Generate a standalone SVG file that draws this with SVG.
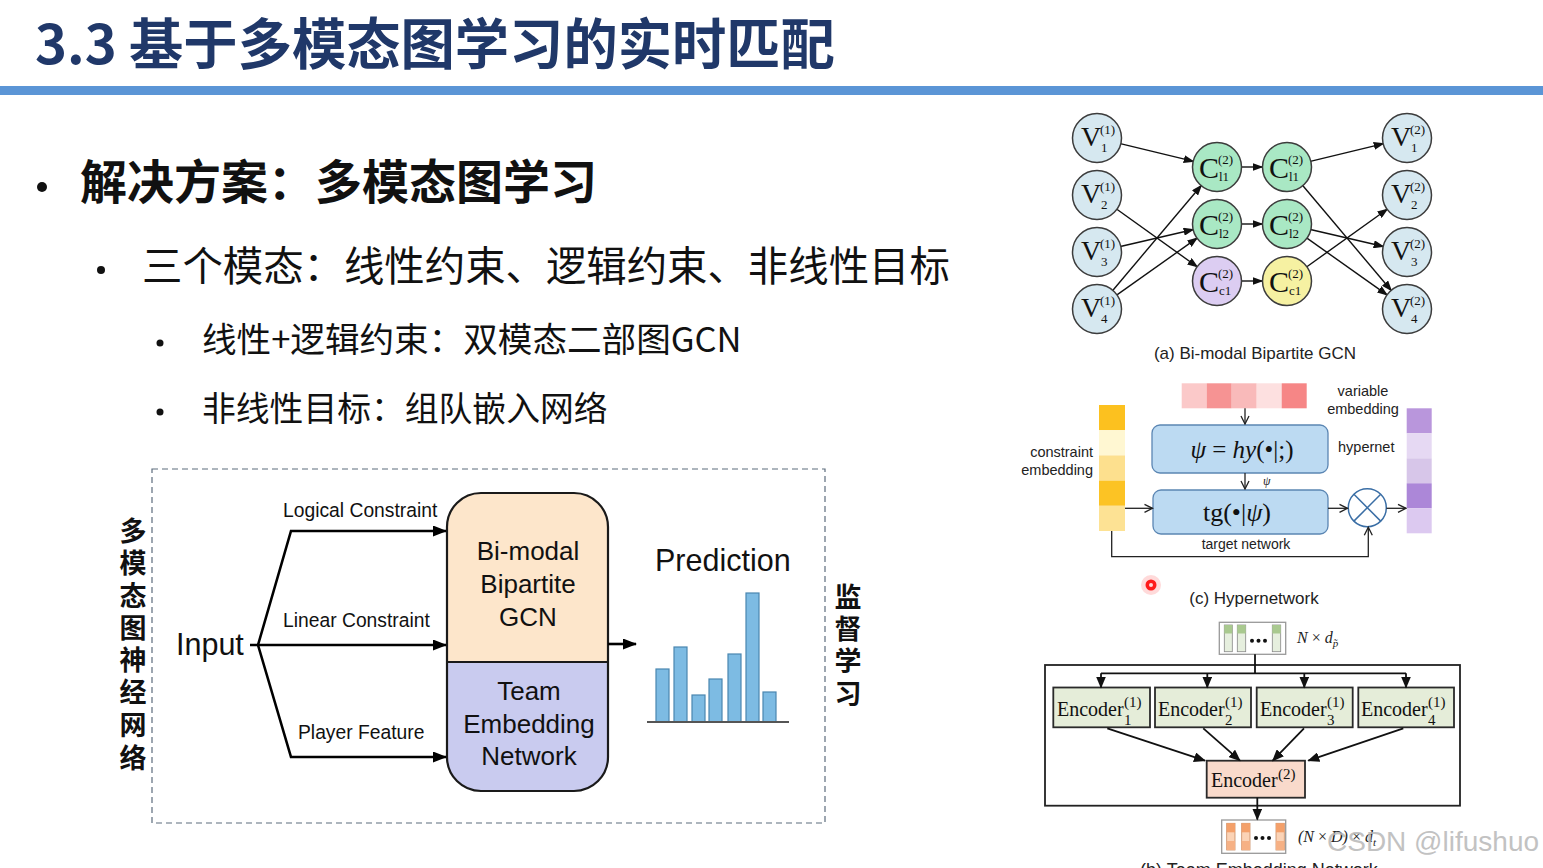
<svg xmlns="http://www.w3.org/2000/svg" width="1543" height="868" viewBox="0 0 1543 868">
<defs>
<style>
.sans{font-family:"Liberation Sans",Arial,sans-serif}
.cjk{font-family:"Noto Sans CJK SC","Noto Sans",sans-serif}
.serif{font-family:"Liberation Serif","Times New Roman",serif}
.vn{fill:#d6e8f0;stroke:#3c3c3c;stroke-width:1.5}
.cg{fill:#a9e8c4;stroke:#3c3c3c;stroke-width:1.5}
.cp{fill:#dccdf2;stroke:#3c3c3c;stroke-width:1.5}
.cy{fill:#f6f1a2;stroke:#3c3c3c;stroke-width:1.5}
.nl{font-family:"Liberation Serif","Times New Roman",serif;font-size:28px;fill:#111}
.cl{font-family:"Liberation Serif","Times New Roman",serif;font-size:30px;fill:#111}
.sp{font-family:"Liberation Serif","Times New Roman",serif;font-size:13px;fill:#111}
.ge{stroke:#111;stroke-width:1.4;fill:none;marker-end:url(#ah)}
.be{stroke:#000;stroke-width:2.6;fill:none}
.he{stroke:#222;stroke-width:1.3;fill:none;marker-end:url(#ao)}
.ee{stroke:#111;stroke-width:1.8;fill:none;marker-end:url(#ae)}
.enc{fill:#e5edd9;stroke:#2a2a2a;stroke-width:1.8}
.et{font-family:"Liberation Serif","Times New Roman",serif;font-size:20px;fill:#111}
.es{font-family:"Liberation Serif","Times New Roman",serif;font-size:15px;fill:#111}
.vt{font-family:"Noto Sans CJK SC",sans-serif;font-size:27px;font-weight:bold;fill:#111;text-anchor:middle}
.bar{fill:#7dbbe3;stroke:#4a86b0;stroke-width:1.2}
</style>
<marker id="ah" markerUnits="userSpaceOnUse" markerWidth="11" markerHeight="8" refX="10" refY="4" orient="auto"><path d="M0,0 L11,4 L0,8 z" fill="#111"/></marker>
<marker id="ab" markerUnits="userSpaceOnUse" markerWidth="14" markerHeight="11" refX="13" refY="5.5" orient="auto"><path d="M0,0 L14,5.5 L0,11 z" fill="#000"/></marker>
<marker id="ao" markerUnits="userSpaceOnUse" markerWidth="10" markerHeight="10" refX="9" refY="5" orient="auto"><path d="M1,1 L9,5 L1,9" fill="none" stroke="#222" stroke-width="1.3"/></marker>
<marker id="ae" markerUnits="userSpaceOnUse" markerWidth="12" markerHeight="10" refX="11" refY="5" orient="auto"><path d="M0,0 L12,5 L0,10 z" fill="#111"/></marker>
</defs>
<rect width="1543" height="868" fill="#ffffff"/>

<!-- Title -->
<g id="title">
<text x="35" y="64" class="cjk" font-size="54.3" font-weight="bold" fill="#203869">3.3 基于多模态图学习的实时匹配</text>
<rect x="0" y="86" width="1543" height="9" fill="#5b95d6"/>
</g>

<!-- Bullets -->
<g id="bullets" class="cjk" fill="#111">
<circle cx="42" cy="187" r="5" fill="#111"/>
<text x="80" y="199" font-size="47" font-weight="bold">解决方案：多模态图学习</text>
<circle cx="101" cy="270" r="4" fill="#111"/>
<text x="142" y="281" font-size="40.4">三个模态：线性约束、逻辑约束、非线性目标</text>
<circle cx="160" cy="343" r="3.5" fill="#111"/>
<text x="202" y="352" font-size="34.6">线性+逻辑约束：双模态二部图GCN</text>
<circle cx="160" cy="412" r="3.5" fill="#111"/>
<text x="202" y="421" font-size="33.8">非线性目标：组队嵌入网络</text>
</g>

<!-- Left framework diagram -->
<g id="frame">
<rect x="152" y="469" width="673" height="354" fill="none" stroke="#5c6c7c" stroke-width="1.2" stroke-dasharray="6,4"/>
</g>
<g id="label-left">
<text x="133" y="541" class="vt">多</text>
<text x="133" y="573" class="vt">模</text>
<text x="133" y="606" class="vt">态</text>
<text x="133" y="638" class="vt">图</text>
<text x="133" y="670" class="vt">神</text>
<text x="133" y="702" class="vt">经</text>
<text x="133" y="735" class="vt">网</text>
<text x="133" y="768" class="vt">络</text>
</g>
<g id="label-right">
<text x="848" y="607" class="vt">监</text>
<text x="848" y="639" class="vt">督</text>
<text x="848" y="671" class="vt">学</text>
<text x="848" y="704" class="vt">习</text>
</g>
<g id="input">
<text x="176" y="655" class="sans" font-size="30.5" fill="#111">Input</text>
</g>
<g id="model">
<path d="M447,662 V527 A34,34 0 0 1 481,493 H574 A34,34 0 0 1 608,527 V662 Z" fill="#fde6cb"/>
<path d="M447,662 V757 A34,34 0 0 0 481,791 H574 A34,34 0 0 0 608,757 V662 Z" fill="#c9cbef"/>
<rect x="447" y="493" width="161" height="298" rx="34" ry="34" fill="none" stroke="#1a1a1a" stroke-width="2.2"/>
<line x1="447" y1="662" x2="608" y2="662" stroke="#1a1a1a" stroke-width="2.2"/>
<g class="sans" font-size="26" fill="#111" text-anchor="middle">
<text x="528" y="560">Bi-modal</text>
<text x="528" y="593">Bipartite</text>
<text x="528" y="626">GCN</text>
<text x="529" y="700">Team</text>
<text x="529" y="733">Embedding</text>
<text x="529" y="765">Network</text>
</g>
</g>
<g id="prediction">
<text x="655" y="571" class="sans" font-size="30.5" fill="#111">Prediction</text>
<rect x="656" y="669" width="13" height="53" class="bar"/>
<rect x="674" y="647" width="13" height="75" class="bar"/>
<rect x="692" y="695" width="13" height="27" class="bar"/>
<rect x="709" y="679" width="13" height="43" class="bar"/>
<rect x="728" y="654" width="13" height="68" class="bar"/>
<rect x="746" y="593" width="13" height="129" class="bar"/>
<rect x="763" y="692" width="13" height="30" class="bar"/>
<line x1="647" y1="722" x2="789" y2="722" stroke="#555" stroke-width="2"/>
</g>
<g id="left-connectors">
<polyline points="250,645 446,645" class="be" marker-end="url(#ab)"/>
<polyline points="258,645 291,531 446,531" class="be" marker-end="url(#ab)"/>
<polyline points="258,645 291,757 446,757" class="be" marker-end="url(#ab)"/>
<polyline points="608,644 636,644" class="be" marker-end="url(#ab)"/>
<g class="sans" font-size="19.3" fill="#111">
<text x="283" y="517">Logical Constraint</text>
<text x="283" y="627">Linear Constraint</text>
<text x="298" y="739">Player Feature</text>
</g>
</g>

<!-- (a) Bi-modal Bipartite GCN -->
<g id="gcn-edges">
<line x1="1120.3" y1="143.6" x2="1193.7" y2="161.4" class="ge"/>
<line x1="1116.5" y1="209" x2="1197.5" y2="267" class="ge"/>
<line x1="1120.4" y1="246.5" x2="1193.6" y2="229.5" class="ge"/>
<line x1="1112.5" y1="290.7" x2="1201.5" y2="185.3" class="ge"/>
<line x1="1116.6" y1="295.1" x2="1197.4" y2="237.9" class="ge"/>
<line x1="1241.5" y1="167" x2="1262.5" y2="167" class="ge"/>
<line x1="1241.5" y1="224" x2="1262.5" y2="224" class="ge"/>
<line x1="1241.5" y1="281" x2="1262.5" y2="281" class="ge"/>
<line x1="1310.3" y1="161.4" x2="1383.7" y2="143.6" class="ge"/>
<line x1="1302.5" y1="185.3" x2="1391.5" y2="290.7" class="ge"/>
<line x1="1310.4" y1="229.5" x2="1383.6" y2="246.5" class="ge"/>
<line x1="1306.6" y1="237.9" x2="1387.4" y2="295.1" class="ge"/>
<line x1="1306.5" y1="267" x2="1387.5" y2="209" class="ge"/>
</g>
<g id="v1-1"><circle cx="1097" cy="138" r="24.5" class="vn"/><text x="1081" y="146" class="nl">V</text><text x="1100" y="134" class="sp">(1)</text><text x="1101" y="152" class="sp">1</text></g>
<g id="v1-2"><circle cx="1097" cy="195" r="24.5" class="vn"/><text x="1081" y="203" class="nl">V</text><text x="1100" y="191" class="sp">(1)</text><text x="1101" y="209" class="sp">2</text></g>
<g id="v1-3"><circle cx="1097" cy="252" r="24.5" class="vn"/><text x="1081" y="260" class="nl">V</text><text x="1100" y="248" class="sp">(1)</text><text x="1101" y="266" class="sp">3</text></g>
<g id="v1-4"><circle cx="1097" cy="309" r="24.5" class="vn"/><text x="1081" y="317" class="nl">V</text><text x="1100" y="305" class="sp">(1)</text><text x="1101" y="323" class="sp">4</text></g>
<g id="c-l1-a"><circle cx="1217" cy="167" r="24.5" class="cg"/><text x="1199" y="178" class="cl">C</text><text x="1218" y="164" class="sp">(2)</text><text x="1219" y="181" class="sp">l1</text></g>
<g id="c-l2-a"><circle cx="1217" cy="224" r="24.5" class="cg"/><text x="1199" y="235" class="cl">C</text><text x="1218" y="221" class="sp">(2)</text><text x="1219" y="238" class="sp">l2</text></g>
<g id="c-c1-a"><circle cx="1217" cy="281" r="24.5" class="cp"/><text x="1199" y="292" class="cl">C</text><text x="1218" y="278" class="sp">(2)</text><text x="1219" y="295" class="sp">c1</text></g>
<g id="c-l1-b"><circle cx="1287" cy="167" r="24.5" class="cg"/><text x="1269" y="178" class="cl">C</text><text x="1288" y="164" class="sp">(2)</text><text x="1289" y="181" class="sp">l1</text></g>
<g id="c-l2-b"><circle cx="1287" cy="224" r="24.5" class="cg"/><text x="1269" y="235" class="cl">C</text><text x="1288" y="221" class="sp">(2)</text><text x="1289" y="238" class="sp">l2</text></g>
<g id="c-c1-b"><circle cx="1287" cy="281" r="24.5" class="cy"/><text x="1269" y="292" class="cl">C</text><text x="1288" y="278" class="sp">(2)</text><text x="1289" y="295" class="sp">c1</text></g>
<g id="v2-1"><circle cx="1407" cy="138" r="24.5" class="vn"/><text x="1391" y="146" class="nl">V</text><text x="1410" y="134" class="sp">(2)</text><text x="1411" y="152" class="sp">1</text></g>
<g id="v2-2"><circle cx="1407" cy="195" r="24.5" class="vn"/><text x="1391" y="203" class="nl">V</text><text x="1410" y="191" class="sp">(2)</text><text x="1411" y="209" class="sp">2</text></g>
<g id="v2-3"><circle cx="1407" cy="252" r="24.5" class="vn"/><text x="1391" y="260" class="nl">V</text><text x="1410" y="248" class="sp">(2)</text><text x="1411" y="266" class="sp">3</text></g>
<g id="v2-4"><circle cx="1407" cy="309" r="24.5" class="vn"/><text x="1391" y="317" class="nl">V</text><text x="1410" y="305" class="sp">(2)</text><text x="1411" y="323" class="sp">4</text></g>
<text x="1255" y="359" class="sans" font-size="17" fill="#222" text-anchor="middle">(a) Bi-modal Bipartite GCN</text>

<!-- (c) Hypernetwork -->
<g id="var-emb">
<rect x="1181.7" y="383.3" width="25" height="25" fill="#fbc9c9"/>
<rect x="1206.7" y="383.3" width="25" height="25" fill="#f69393"/>
<rect x="1231.7" y="383.3" width="25" height="25" fill="#f9baba"/>
<rect x="1256.7" y="383.3" width="25" height="25" fill="#fde0e0"/>
<rect x="1281.7" y="383.3" width="25" height="25" fill="#f68686"/>
<text x="1363" y="396" class="sans" font-size="14.5" fill="#222" text-anchor="middle">variable</text>
<text x="1363" y="414" class="sans" font-size="14.5" fill="#222" text-anchor="middle">embedding</text>
</g>
<g id="con-emb">
<rect x="1099" y="405" width="26" height="25.2" fill="#fcc11f"/>
<rect x="1099" y="430.2" width="26" height="25.2" fill="#fff7d2"/>
<rect x="1099" y="455.4" width="26" height="25.2" fill="#fde08e"/>
<rect x="1099" y="480.6" width="26" height="25.2" fill="#fcc324"/>
<rect x="1099" y="505.8" width="26" height="25.2" fill="#fde294"/>
<text x="1093" y="457" class="sans" font-size="14.5" fill="#222" text-anchor="end">constraint</text>
<text x="1093" y="475" class="sans" font-size="14.5" fill="#222" text-anchor="end">embedding</text>
</g>
<g id="hypernet">
<rect x="1152" y="425" width="176" height="48" rx="8" fill="#bcdaf2" stroke="#5b86b3" stroke-width="1.3"/>
<text x="1242" y="458" class="serif" font-size="25" fill="#111" text-anchor="middle"><tspan font-style="italic">ψ</tspan> = <tspan font-style="italic">hy</tspan>(•|;)</text>
<text x="1338" y="452" class="sans" font-size="14.5" fill="#222">hypernet</text>
</g>
<g id="target-net">
<rect x="1153" y="490" width="175" height="44" rx="8" fill="#bcdaf2" stroke="#5b86b3" stroke-width="1.3"/>
<text x="1237" y="521" class="serif" font-size="26" fill="#111" text-anchor="middle">tg(•|<tspan font-style="italic">ψ</tspan>)</text>
<text x="1246" y="549" class="sans" font-size="14" fill="#222" text-anchor="middle">target network</text>
</g>
<g id="mult">
<circle cx="1367.3" cy="507.7" r="19" fill="#fff" stroke="#3a6ea5" stroke-width="1.5"/>
<line x1="1353.9" y1="494.3" x2="1380.7" y2="521.1" stroke="#3a6ea5" stroke-width="1.5"/>
<line x1="1353.9" y1="521.1" x2="1380.7" y2="494.3" stroke="#3a6ea5" stroke-width="1.5"/>
</g>
<g id="var-out">
<rect x="1406.7" y="408.3" width="25" height="25" fill="#b996dc"/>
<rect x="1406.7" y="433.3" width="25" height="25" fill="#e6d9f3"/>
<rect x="1406.7" y="458.3" width="25" height="25" fill="#d7c6e9"/>
<rect x="1406.7" y="483.3" width="25" height="25" fill="#ac87d8"/>
<rect x="1406.7" y="508.3" width="25" height="25" fill="#dcc9f0"/>
</g>
<g id="hyper-connectors">
<line x1="1245" y1="408.3" x2="1245" y2="424" class="he"/>
<line x1="1245" y1="473" x2="1245" y2="489" class="he"/>
<text x="1263" y="485" class="serif" font-size="12" font-style="italic" fill="#222">ψ</text>
<line x1="1125" y1="508.3" x2="1152.5" y2="508.3" class="he"/>
<line x1="1328" y1="508.3" x2="1347.5" y2="508.3" class="he"/>
<line x1="1386.5" y1="508.3" x2="1406" y2="508.3" class="he"/>
<polyline points="1111.7,531 1111.7,556.7 1368.3,556.7 1368.3,527.2" class="he"/>
</g>
<text x="1254" y="604" class="sans" font-size="17" fill="#222" text-anchor="middle">(c) Hypernetwork</text>
<g id="pointer">
<circle cx="1151" cy="585" r="10" fill="#ff3030" opacity="0.18"/>
<circle cx="1151" cy="585" r="5.5" fill="#ff1a1a"/>
<circle cx="1151" cy="585" r="2" fill="#ffd6d6"/>
</g>

<!-- (b) Team Embedding Network -->
<g id="in-tensor">
<rect x="1219.3" y="622.3" width="66.4" height="32" fill="#fff" stroke="#999" stroke-width="1.3"/>
<rect x="1224.3" y="625" width="8" height="26.7" fill="#e6efde" stroke="#888" stroke-width="0.8"/>
<rect x="1224.3" y="625" width="8" height="8.5" fill="#a9c98f"/>
<rect x="1237.3" y="625" width="8.4" height="26.7" fill="#e6efde" stroke="#888" stroke-width="0.8"/>
<rect x="1237.3" y="625" width="8.4" height="8.5" fill="#a9c98f"/>
<rect x="1272.3" y="625" width="8.4" height="26.7" fill="#e6efde" stroke="#888" stroke-width="0.8"/>
<rect x="1272.3" y="625" width="8.4" height="8.5" fill="#a9c98f"/>
<circle cx="1252" cy="640.7" r="2" fill="#111"/><circle cx="1258.5" cy="640.7" r="2" fill="#111"/><circle cx="1265" cy="640.7" r="2" fill="#111"/>
<text x="1297" y="643" class="serif" font-size="16" font-style="italic" fill="#222">N <tspan font-style="normal">×</tspan> d<tspan font-size="11" dy="4">p̃</tspan></text>
</g>
<g id="ten-box">
<rect x="1045" y="665" width="415" height="140.7" fill="none" stroke="#222" stroke-width="1.8"/>
</g>
<g id="enc1-1"><rect x="1053.3" y="687.5" width="96.7" height="39.8" class="enc"/><text x="1057" y="716" class="et">Encoder</text><text x="1124" y="707" class="es">(1)</text><text x="1124" y="725" class="es">1</text></g>
<g id="enc1-2"><rect x="1155" y="687.5" width="96" height="39.8" class="enc"/><text x="1158" y="716" class="et">Encoder</text><text x="1225" y="707" class="es">(1)</text><text x="1225" y="725" class="es">2</text></g>
<g id="enc1-3"><rect x="1256.7" y="687.5" width="96" height="39.8" class="enc"/><text x="1260" y="716" class="et">Encoder</text><text x="1327" y="707" class="es">(1)</text><text x="1327" y="725" class="es">3</text></g>
<g id="enc1-4"><rect x="1358.3" y="687.5" width="95.7" height="39.8" class="enc"/><text x="1361" y="716" class="et">Encoder</text><text x="1428" y="707" class="es">(1)</text><text x="1428" y="725" class="es">4</text></g>
<g id="enc2"><rect x="1206.7" y="760.7" width="98.3" height="37" fill="#f9dacb" stroke="#2a2a2a" stroke-width="1.8"/><text x="1211" y="787" class="et">Encoder</text><text x="1278" y="779" class="es">(2)</text></g>
<g id="out-tensor">
<rect x="1221.7" y="820" width="64" height="33.3" fill="#fff" stroke="#999" stroke-width="1.3"/>
<rect x="1226.7" y="823.3" width="8.3" height="26.7" fill="#fbd3b6" stroke="#c98a60" stroke-width="0.8"/>
<rect x="1226.7" y="823.3" width="8.3" height="9" fill="#f4a06a"/><rect x="1226.7" y="841" width="8.3" height="9" fill="#f6b185"/>
<rect x="1241.7" y="823.3" width="8.3" height="26.7" fill="#fbd3b6" stroke="#c98a60" stroke-width="0.8"/>
<rect x="1241.7" y="823.3" width="8.3" height="9" fill="#f4a06a"/><rect x="1241.7" y="841" width="8.3" height="9" fill="#f6b185"/>
<rect x="1276" y="823.3" width="8.3" height="26.7" fill="#fbd3b6" stroke="#c98a60" stroke-width="0.8"/>
<rect x="1276" y="823.3" width="8.3" height="9" fill="#f4a06a"/><rect x="1276" y="841" width="8.3" height="9" fill="#f6b185"/>
<circle cx="1256" cy="838" r="2" fill="#111"/><circle cx="1262.5" cy="838" r="2" fill="#111"/><circle cx="1269" cy="838" r="2" fill="#111"/>
<text x="1298" y="842" class="serif" font-size="16" font-style="italic" fill="#222">(N <tspan font-style="normal">×</tspan> D) <tspan font-style="normal">×</tspan> d<tspan font-size="11" dy="4">t</tspan></text>
</g>
<g id="enc-connectors">
<polyline points="1255,654.3 1255,673.3" fill="none" stroke="#111" stroke-width="1.8"/>
<polyline points="1101,673.3 1406,673.3" fill="none" stroke="#111" stroke-width="1.8"/>
<line x1="1101" y1="673.3" x2="1101" y2="687.5" class="ee"/>
<line x1="1207.3" y1="673.3" x2="1207.3" y2="687.5" class="ee"/>
<line x1="1304.3" y1="673.3" x2="1304.3" y2="687.5" class="ee"/>
<line x1="1406" y1="673.3" x2="1406" y2="687.5" class="ee"/>
<line x1="1107.3" y1="728.3" x2="1205" y2="760.7" class="ee"/>
<line x1="1203.3" y1="728.3" x2="1240" y2="760.7" class="ee"/>
<line x1="1304" y1="728.3" x2="1272.7" y2="760.7" class="ee"/>
<line x1="1403.3" y1="728.3" x2="1308.3" y2="760.7" class="ee"/>
<line x1="1257.3" y1="797.7" x2="1257.3" y2="819.5" class="ee"/>
</g>
<text x="1140" y="876" class="sans" font-size="18" fill="#222">(b) Team Embedding Network</text>
<text x="1327" y="851" class="sans" font-size="28" fill="#b8b8b8" opacity="0.85">CSDN @lifushuo</text>
</svg>
